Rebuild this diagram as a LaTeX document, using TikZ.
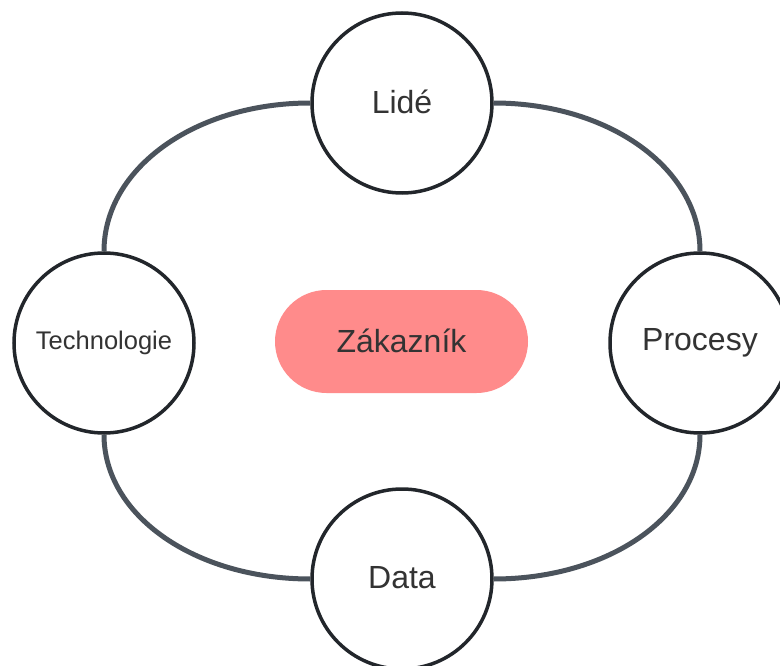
\documentclass[tikz,border=0pt]{standalone}
\usepackage{fontspec}
\setmainfont{Liberation Sans}
\usetikzlibrary{backgrounds}
\definecolor{ringc}{HTML}{22262B}
\definecolor{linkc}{HTML}{4B535C}
\definecolor{pillc}{HTML}{FF8B8B}
\definecolor{txtc}{HTML}{333333}
\newcommand{\upt}[1]{\raisebox{2.5pt}{#1}}
\begin{document}
\begin{tikzpicture}[x=1pt,y=-1pt,
  ring/.style={circle,draw=ringc,line width=3.5pt,fill=white,minimum size=180pt,inner sep=0pt,text=txtc,font=\fontsize{32}{38}\selectfont},
  link/.style={draw=linkc,line width=5pt}]
\useasboundingbox (0,0) rectangle (780,666);
\node[ring] (lide) at (402,103) {\upt{Lidé}};
\node[ring,font=\fontsize{25.5}{30}\selectfont] (tech) at (104,343) {\upt{Technologie}};
\node[ring] (proc) at (700,343) {\upt{Procesy}};
\node[ring] (data) at (402,579) {\upt{Data}};
\node[fill=pillc,rounded corners=51.5pt,minimum width=253pt,minimum height=103pt,text=txtc,font=\fontsize{32}{38}\selectfont] (zak) at (401.5,341.5) {\upt{Zákazník}};
\begin{scope}[on background layer]
\draw[link] (lide.west) .. controls +(-115,0) and +(0,-83) .. (tech.north);
\draw[link] (lide.east) .. controls +(115,0) and +(0,-83) .. (proc.north);
\draw[link] (tech.south) .. controls +(0,81) and +(-115,0) .. (data.west);
\draw[link] (proc.south) .. controls +(0,81) and +(115,0) .. (data.east);
\end{scope}
\end{tikzpicture}
\end{document}
